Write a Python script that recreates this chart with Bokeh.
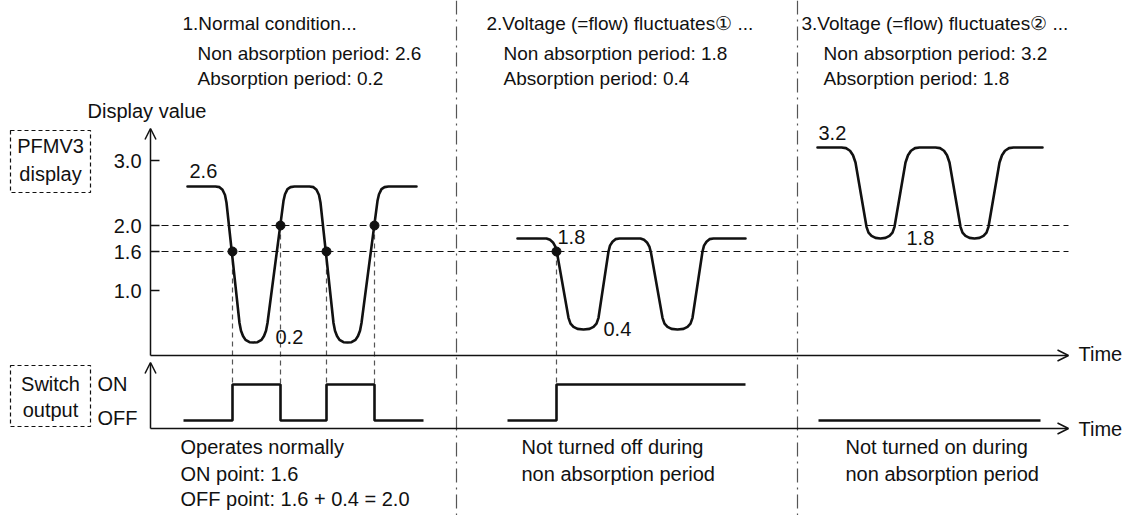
from bokeh.plotting import figure
from bokeh.models import Range1d, Span, Arrow, OpenHead
from bokeh.core.properties import value
from bokeh.embed import file_html
from bokeh.resources import INLINE

# ------------------------------------------------------------------ data
section_titles = ["1.Normal condition...",
                  "2.Voltage (=flow) fluctuates\u2460 ...",
                  "3.Voltage (=flow) fluctuates\u2461 ..."]
non_absorption = [2.6, 1.8, 3.2]
absorption = [0.2, 0.4, 1.8]
y_ticks = [1.0, 1.6, 2.0, 3.0]
thresholds = [2.0, 1.6]          # OFF point, ON point

bottom_notes = [["Operates normally", "ON point: 1.6", "OFF point: 1.6 + 0.4 = 2.0"],
                ["Not turned off during", "non absorption period"],
                ["Not turned on during", "non absorption period"]]

# display value waveforms (time, value)
t1 = [187, 215, 219, 222, 224.5, 226, 239, 240.5, 242.5, 245, 249, 253, 257, 261, 263.5, 265.5, 267,
      283, 284.5, 287, 290, 294, 309, 313, 316, 318.5, 320, 333, 334.5, 336.5, 339, 343, 347, 351,
      355, 357.5, 359.5, 361, 377, 378.5, 381, 384, 388, 416]
v1 = [2.60, 2.60, 2.59, 2.55, 2.47, 2.35, 0.50, 0.38, 0.30, 0.24, 0.205, 0.20, 0.205, 0.24, 0.30, 0.38, 0.50,
      2.38, 2.48, 2.56, 2.59, 2.60, 2.60, 2.59, 2.55, 2.47, 2.35, 0.50, 0.38, 0.30, 0.24, 0.205, 0.20, 0.205,
      0.24, 0.30, 0.38, 0.50, 2.38, 2.48, 2.56, 2.59, 2.60, 2.60]

t2 = [517, 546, 549.5, 552.5, 555, 556.5, 568, 570, 573, 577, 583, 589, 593, 596, 598, 608, 609.5, 612, 615,
      619, 640, 643.5, 646.5, 649, 650.5, 662, 664, 667, 671, 677, 683, 687, 690, 692, 702, 703.5, 706,
      709, 713, 745]
v2 = [1.80, 1.80, 1.78, 1.74, 1.67, 1.58, 0.58, 0.49, 0.44, 0.41, 0.40, 0.41, 0.44, 0.49, 0.58, 1.60, 1.69,
      1.75, 1.79, 1.80, 1.80, 1.78, 1.74, 1.67, 1.58, 0.58, 0.49, 0.44, 0.41, 0.40, 0.41, 0.44, 0.49, 0.58,
      1.60, 1.69, 1.75, 1.79, 1.80, 1.80]

t3 = [817, 841, 845.5, 849.5, 852.5, 855, 866, 868, 871, 875, 880, 885, 889, 892, 894, 905, 907.5, 910.5,
      914.5, 919, 935, 939.5, 943.5, 946.5, 949, 960, 962, 965, 969, 974, 979, 983, 986, 988, 999, 1001.5,
      1004.5, 1008.5, 1013, 1042]
v3 = [3.20, 3.20, 3.19, 3.15, 3.08, 2.97, 1.98, 1.89, 1.84, 1.81, 1.80, 1.81, 1.84, 1.89, 1.98, 2.97, 3.08,
      3.15, 3.19, 3.20, 3.20, 3.19, 3.15, 3.08, 2.97, 1.98, 1.89, 1.84, 1.81, 1.80, 1.81, 1.84, 1.89, 1.98,
      2.97, 3.08, 3.15, 3.19, 3.20, 3.20]

# switching points (time, display value)
dot_t = [232, 280, 326, 374, 556]
dot_v = [1.6, 2.0, 1.6, 2.0, 1.6]

# switch output (time, state 0=OFF 1=ON)
sw1_t = [183, 232, 280, 326, 374, 423]
sw1_s = [0, 1, 0, 1, 0, 0]
sw2_t = [507, 556, 745]
sw2_s = [0, 1, 1]
sw3_t = [818, 1040]
sw3_s = [0, 0]

# ------------------------------------------------------------------ layout
W, H = 1128, 515
Y0_PX, PX_PER_V = 355.0, 65.0      # display value scale
SW_OFF_PX, PX_PER_SW = 420.0, 36.0  # switch scale
FONT = value("Liberation Sans")
INK = "#111111"
BASE_SHIFT = -7  # screen correction for alphabetic baseline placement


def vy(img_y):
    return (Y0_PX - img_y) / PX_PER_V


def sy(img_y):
    return (SW_OFF_PX - img_y) / PX_PER_SW


def sw_to_v(s):
    return vy(SW_OFF_PX - s * PX_PER_SW)


p = figure(width=W, height=H, x_range=Range1d(0, W), y_range=Range1d(vy(H), vy(0)),
           output_backend="svg", toolbar_location=None, min_border=0,
           x_axis_location=None, y_axis_location=None)
p.extra_y_ranges = {"sw": Range1d(sy(H), sy(0))}
p.xgrid.visible = False
p.ygrid.visible = False
p.outline_line_color = None
p.background_fill_color = "white"
p.border_fill_color = "white"


def txt(x, y, s, size="20px", align="left", baseline="alphabetic", y_range_name="default",
        x_offset=0, y_offset=0):
    if baseline == "alphabetic":
        y_offset += BASE_SHIFT
    p.text(x=[x], y=[y], text=[s], text_font=FONT, text_font_size=size, text_align=align,
           text_baseline=baseline, text_color=INK, x_offset=x_offset, y_offset=y_offset,
           y_range_name=y_range_name)


# section separators
for xs in [456, 797]:
    p.add_layout(Span(location=xs, dimension="height", line_color="#555555",
                      line_dash="14 5 2 5", line_width=1.2))

# thresholds
p.segment(x0=[150] * len(thresholds), x1=[1068] * len(thresholds), y0=thresholds, y1=thresholds,
          line_color=INK, line_dash="7 4", line_width=1.1)

# drop lines from switching points to switch output
p.segment(x0=dot_t, x1=dot_t, y0=dot_v, y1=[sw_to_v(1)] * len(dot_t),
          line_color="#555555", line_dash="5 4", line_width=1.2)

# axes
head = dict(size=11, line_width=1.5, line_color=INK)
p.add_layout(Arrow(end=OpenHead(**head), x_start=150, y_start=0, x_end=1068, y_end=0,
                   line_width=1.5, line_color=INK))
p.add_layout(Arrow(end=OpenHead(**head), x_start=150, y_start=0, x_end=150, y_end=vy(128),
                   line_width=1.5, line_color=INK))
p.add_layout(Arrow(end=OpenHead(**head), x_start=150, y_start=sy(428), x_end=1068, y_end=sy(428),
                   line_width=1.5, line_color=INK, y_range_name="sw"))
p.add_layout(Arrow(end=OpenHead(**head), x_start=150, y_start=sy(428), x_end=150, y_end=sy(362),
                   line_width=1.5, line_color=INK, y_range_name="sw"))

# ticks
p.segment(x0=[150] * len(y_ticks), x1=[159] * len(y_ticks), y0=y_ticks, y1=y_ticks,
          line_color=INK, line_width=1.5)
p.text(x=[141] * len(y_ticks), y=y_ticks, text=[f"{t:.1f}" for t in y_ticks], text_font=FONT,
       text_font_size="20px", text_align="right", text_baseline="middle", text_color=INK)

# waveforms
for t, v in [(t1, v1), (t2, v2), (t3, v3)]:
    p.line(t, v, line_color=INK, line_width=2.6, line_join="round", line_cap="round")
p.scatter(dot_t, dot_v, size=9, color=INK)

# switch output
for t, s in [(sw1_t, sw1_s), (sw2_t, sw2_s), (sw3_t, sw3_s)]:
    p.step(t, s, mode="after", y_range_name="sw", line_color=INK, line_width=2.6)

# boxes
p.quad(left=[10], right=[90], top=[vy(130)], bottom=[vy(192)], fill_color=None,
       line_color=INK, line_dash="4 3", line_width=1.2)
p.quad(left=[10], right=[90], top=[sy(365)], bottom=[sy(426)], fill_color=None,
       line_color=INK, line_dash="4 3", line_width=1.2, y_range_name="sw")
txt(50, vy(152), "PFMV3", align="center")
txt(50, vy(180), "display", align="center")
txt(50, sy(390), "Switch", align="center", y_range_name="sw")
txt(50, sy(416), "output", align="center", y_range_name="sw")
txt(97, sy(390), "ON", y_range_name="sw")
txt(97, sy(424), "OFF", y_range_name="sw")
txt(87, vy(117), "Display value")
txt(1078, 0, "Time", baseline="middle", y_offset=-2)
txt(1078, sy(428), "Time", baseline="middle", y_range_name="sw")

# headers
head_x = [182, 486, 801]
sub_x = [197, 503, 823]
for i in range(3):
    txt(head_x[i], vy(30), section_titles[i], size="19px")
    txt(sub_x[i], vy(60), f"Non absorption period: {non_absorption[i]}", size="19px")
    txt(sub_x[i], vy(85), f"Absorption period: {absorption[i]}", size="19px")

# level labels
txt(189, non_absorption[0], f"{non_absorption[0]}", y_offset=-9)
txt(275, absorption[0], f"{absorption[0]}", y_offset=1)
txt(557, non_absorption[1], f"{non_absorption[1]}", y_offset=5)
txt(603, absorption[1], f"{absorption[1]}", y_offset=6)
txt(818, non_absorption[2], f"{non_absorption[2]}", y_offset=-8)
txt(906, absorption[2], f"{absorption[2]}", y_offset=6)

# notes below
note_x = [180, 521, 845]
note_base = [453, 480, 505]
for i in range(3):
    for j, line in enumerate(bottom_notes[i]):
        txt(note_x[i], sy(note_base[j]), line, y_range_name="sw")

open("out.html", "w").write(file_html(p, INLINE))
